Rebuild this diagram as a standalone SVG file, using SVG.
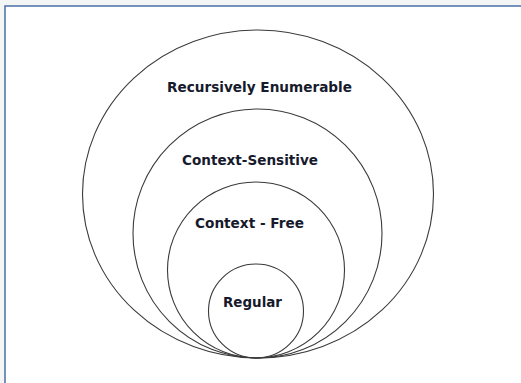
<svg xmlns="http://www.w3.org/2000/svg" width="521" height="383" viewBox="0 0 521 383">
<style>
.set{fill:none;stroke:#3a3a3a;stroke-width:1.1}
.lbl{font-family:"DejaVu Sans","Liberation Sans",sans-serif;font-weight:bold;font-size:14px;fill:#161a2c;text-anchor:middle}
</style>
<rect x="0" y="0" width="521" height="383" fill="#f4f5f5"/>
<rect x="5" y="6" width="530" height="390" fill="#ffffff" stroke="#4a6fa5" stroke-width="1.5"/>
<g id="recursively-enumerable">
<ellipse class="set" cx="258" cy="194" rx="175.5" ry="164"/>
<text class="lbl" x="259.5" y="92" textLength="185" lengthAdjust="spacingAndGlyphs">Recursively Enumerable</text>
</g>
<g id="context-sensitive">
<ellipse class="set" cx="257.5" cy="233.5" rx="124.5" ry="124.5"/>
<text class="lbl" x="250" y="165" textLength="136" lengthAdjust="spacingAndGlyphs">Context-Sensitive</text>
</g>
<g id="context-free">
<ellipse class="set" cx="256" cy="270" rx="88.5" ry="88"/>
<text class="lbl" x="249.5" y="228" textLength="109" lengthAdjust="spacingAndGlyphs">Context - Free</text>
</g>
<g id="regular">
<ellipse class="set" cx="256" cy="311" rx="47.5" ry="47"/>
<text class="lbl" x="252.5" y="307" textLength="59" lengthAdjust="spacingAndGlyphs">Regular</text>
</g>
<g id="connectors"></g>
</svg>
